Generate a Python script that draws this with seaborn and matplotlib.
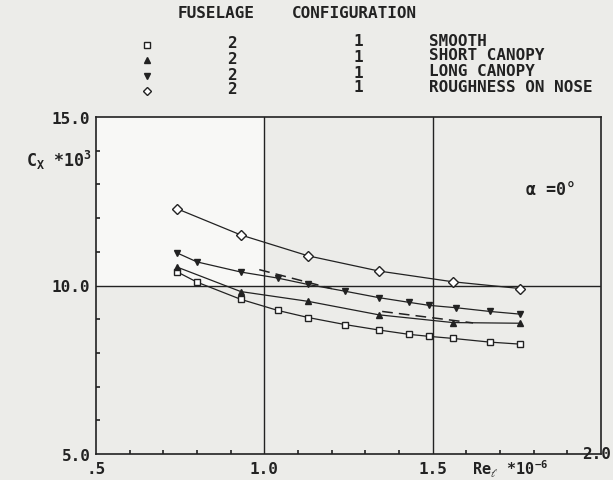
import matplotlib
matplotlib.use("Agg")
import matplotlib.pyplot as plt
import matplotlib.transforms as mtransforms
from matplotlib.ticker import MultipleLocator, FixedLocator
import numpy as np
import pandas as pd
import seaborn as sns

# ---------------- data ----------------
smooth_x = [0.74, 0.80, 0.93, 1.04, 1.13, 1.24, 1.34, 1.43, 1.49, 1.56, 1.67, 1.76]
smooth_y = [10.41, 10.10, 9.59, 9.26, 9.05, 8.84, 8.68, 8.55, 8.49, 8.43, 8.32, 8.26]

short_x = [0.74, 0.93, 1.13, 1.34, 1.56, 1.76]
short_y = [10.55, 9.82, 9.53, 9.13, 8.90, 8.88]

long_x = [0.74, 0.80, 0.93, 1.04, 1.13, 1.24, 1.34, 1.43, 1.49, 1.57, 1.67, 1.76]
long_y = [10.97, 10.70, 10.40, 10.22, 10.03, 9.83, 9.64, 9.50, 9.41, 9.34, 9.23, 9.15]

rough_x = [0.74, 0.93, 1.13, 1.34, 1.56, 1.76]
rough_y = [12.28, 11.50, 10.88, 10.43, 10.11, 9.91]

dash1_x = [0.985, 1.20]
dash1_y = [10.47, 9.91]
dash2_x = [1.35, 1.62]
dash2_y = [9.23, 8.89]

fuselage = ["2", "2", "2", "2"]
configuration = ["1", "1", "1", "1"]
labels = ["SMOOTH", "SHORT CANOPY", "LONG CANOPY", "ROUGHNESS ON NOSE"]

x_ticks = [0.5, 1.0, 1.5, 2.0]
x_ticklabels = [".5", "1.0", "1.5", "2.0"]
y_ticks = [5.0, 10.0, 15.0]
y_ticklabels = ["5.0", "10.0", "15.0"]

# ---------------- style ----------------
sns.set_theme(style="white")
plt.rcParams["font.family"] = ["DejaVu Sans Mono", "DejaVu Sans"]
plt.rcParams["mathtext.default"] = "regular"

INK = "#222222"
BG = "#ecece9"
fig = plt.figure(figsize=(6.13, 4.81), dpi=100, facecolor=BG)
W, H = 613, 481
ax = fig.add_axes([96 / W, 1 - 455 / H, 505 / W, 337 / H])
ax.set_facecolor(BG)
ax.set_xlim(0.5, 2.0)
ax.set_ylim(5.0, 15.0)

# lighter upper-left quadrant (as on the scan)
ax.axvspan(0.5, 1.0, ymin=0.5, ymax=1.0, color="#f8f8f6", zorder=0, lw=0)

series = [
    ("smooth", smooth_x, smooth_y, dict(marker="s", markerfacecolor="white", markersize=4.6)),
    ("short", short_x, short_y, dict(marker="^", markerfacecolor=INK, markersize=4.8)),
    ("long", long_x, long_y, dict(marker="v", markerfacecolor=INK, markersize=4.8)),
    ("rough", rough_x, rough_y, dict(marker="D", markerfacecolor="white", markersize=4.6)),
]
for name, xs, ys, mk in series:
    df = pd.DataFrame({"x": xs, "y": ys})
    sns.lineplot(data=df, x="x", y="y", ax=ax, color=INK, linewidth=0.9,
                 markeredgecolor=INK, markeredgewidth=1.0, errorbar=None,
                 zorder=3, **mk)

for xs, ys in [(dash1_x, dash1_y), (dash2_x, dash2_y)]:
    df = pd.DataFrame({"x": xs, "y": ys})
    sns.lineplot(data=df, x="x", y="y", ax=ax, color=INK, linewidth=1.1,
                 linestyle=(0, (7, 4)), errorbar=None, zorder=3)

# grid at major positions
for xv in [1.0, 1.5]:
    ax.axvline(xv, color=INK, lw=1.0, zorder=2)
ax.axhline(10.0, color=INK, lw=1.0, zorder=2)

for s in ax.spines.values():
    s.set_color(INK)
    s.set_linewidth(1.2)

ax.xaxis.set_major_locator(FixedLocator(x_ticks))
ax.yaxis.set_major_locator(FixedLocator(y_ticks))
ax.set_xticklabels(x_ticklabels)
ax.set_yticklabels(y_ticklabels)
ax.xaxis.set_minor_locator(MultipleLocator(0.1))
ax.yaxis.set_minor_locator(MultipleLocator(1.0))
ax.tick_params(which="major", length=0, labelsize=11.5, labelcolor=INK)
ax.tick_params(axis="x", which="major", pad=5)
ax.tick_params(axis="y", which="major", pad=4)
ax.tick_params(which="minor", length=3, width=1.2, direction="in", color=INK,
               bottom=True, left=True)
for t in ax.get_xticklabels() + ax.get_yticklabels():
    t.set_fontweight("bold")
ax.set_xlabel("")
ax.set_ylabel("")

# raise the 2.0 label as on the reference
lbl = ax.get_xticklabels()[-1]
lbl.set_transform(lbl.get_transform() + mtransforms.ScaledTranslation(-3 / 72, 11 / 72, fig.dpi_scale_trans))

# ---------------- overlay texts in pixel coordinates ----------------
ov = fig.add_axes([0, 0, 1, 1], facecolor="none")
ov.set_xlim(0, W)
ov.set_ylim(H, 0)
ov.axis("off")

tk = dict(color=INK, fontweight="bold", fontsize=11.5, va="center")
ov.text(178, 14, "FUSELAGE", ha="left", **tk)
ov.text(292, 14, "CONFIGURATION", ha="left", **tk)

mk_y = [46, 61, 77, 92]
f_y = [44, 59, 75, 90]
c_y = [42, 57, 73, 88]
l_y = [41, 56, 72, 88]
leg_markers = [("s", "white", 4.2), ("^", INK, 4.6), ("v", INK, 4.6), ("D", "white", 4.2)]
for i in range(4):
    m, fc, ms = leg_markers[i]
    ov.plot([147], [mk_y[i]], marker=m, markerfacecolor=fc, markeredgecolor=INK,
            markersize=ms, markeredgewidth=1.0, linestyle="none")
    ov.text(232, f_y[i], fuselage[i], ha="center", **tk)
    ov.text(358, c_y[i], configuration[i], ha="center", **tk)
    ov.text(429, l_y[i], labels[i], ha="left", **tk)

ov.text(26, 160, r"C$_{X}$ *10$^{3}$", ha="left", color=INK, fontweight="bold",
        fontsize=12, va="center")
ov.text(526, 190, "α =0°", ha="left", color=INK, fontweight="bold",
        fontsize=12, va="center")
ov.text(472, 469, r"Re$_{\ell}$ *10$^{-6}$", ha="left", color=INK, fontweight="bold",
        fontsize=11, va="center")

fig.savefig("out.png", dpi=100, facecolor=BG)
